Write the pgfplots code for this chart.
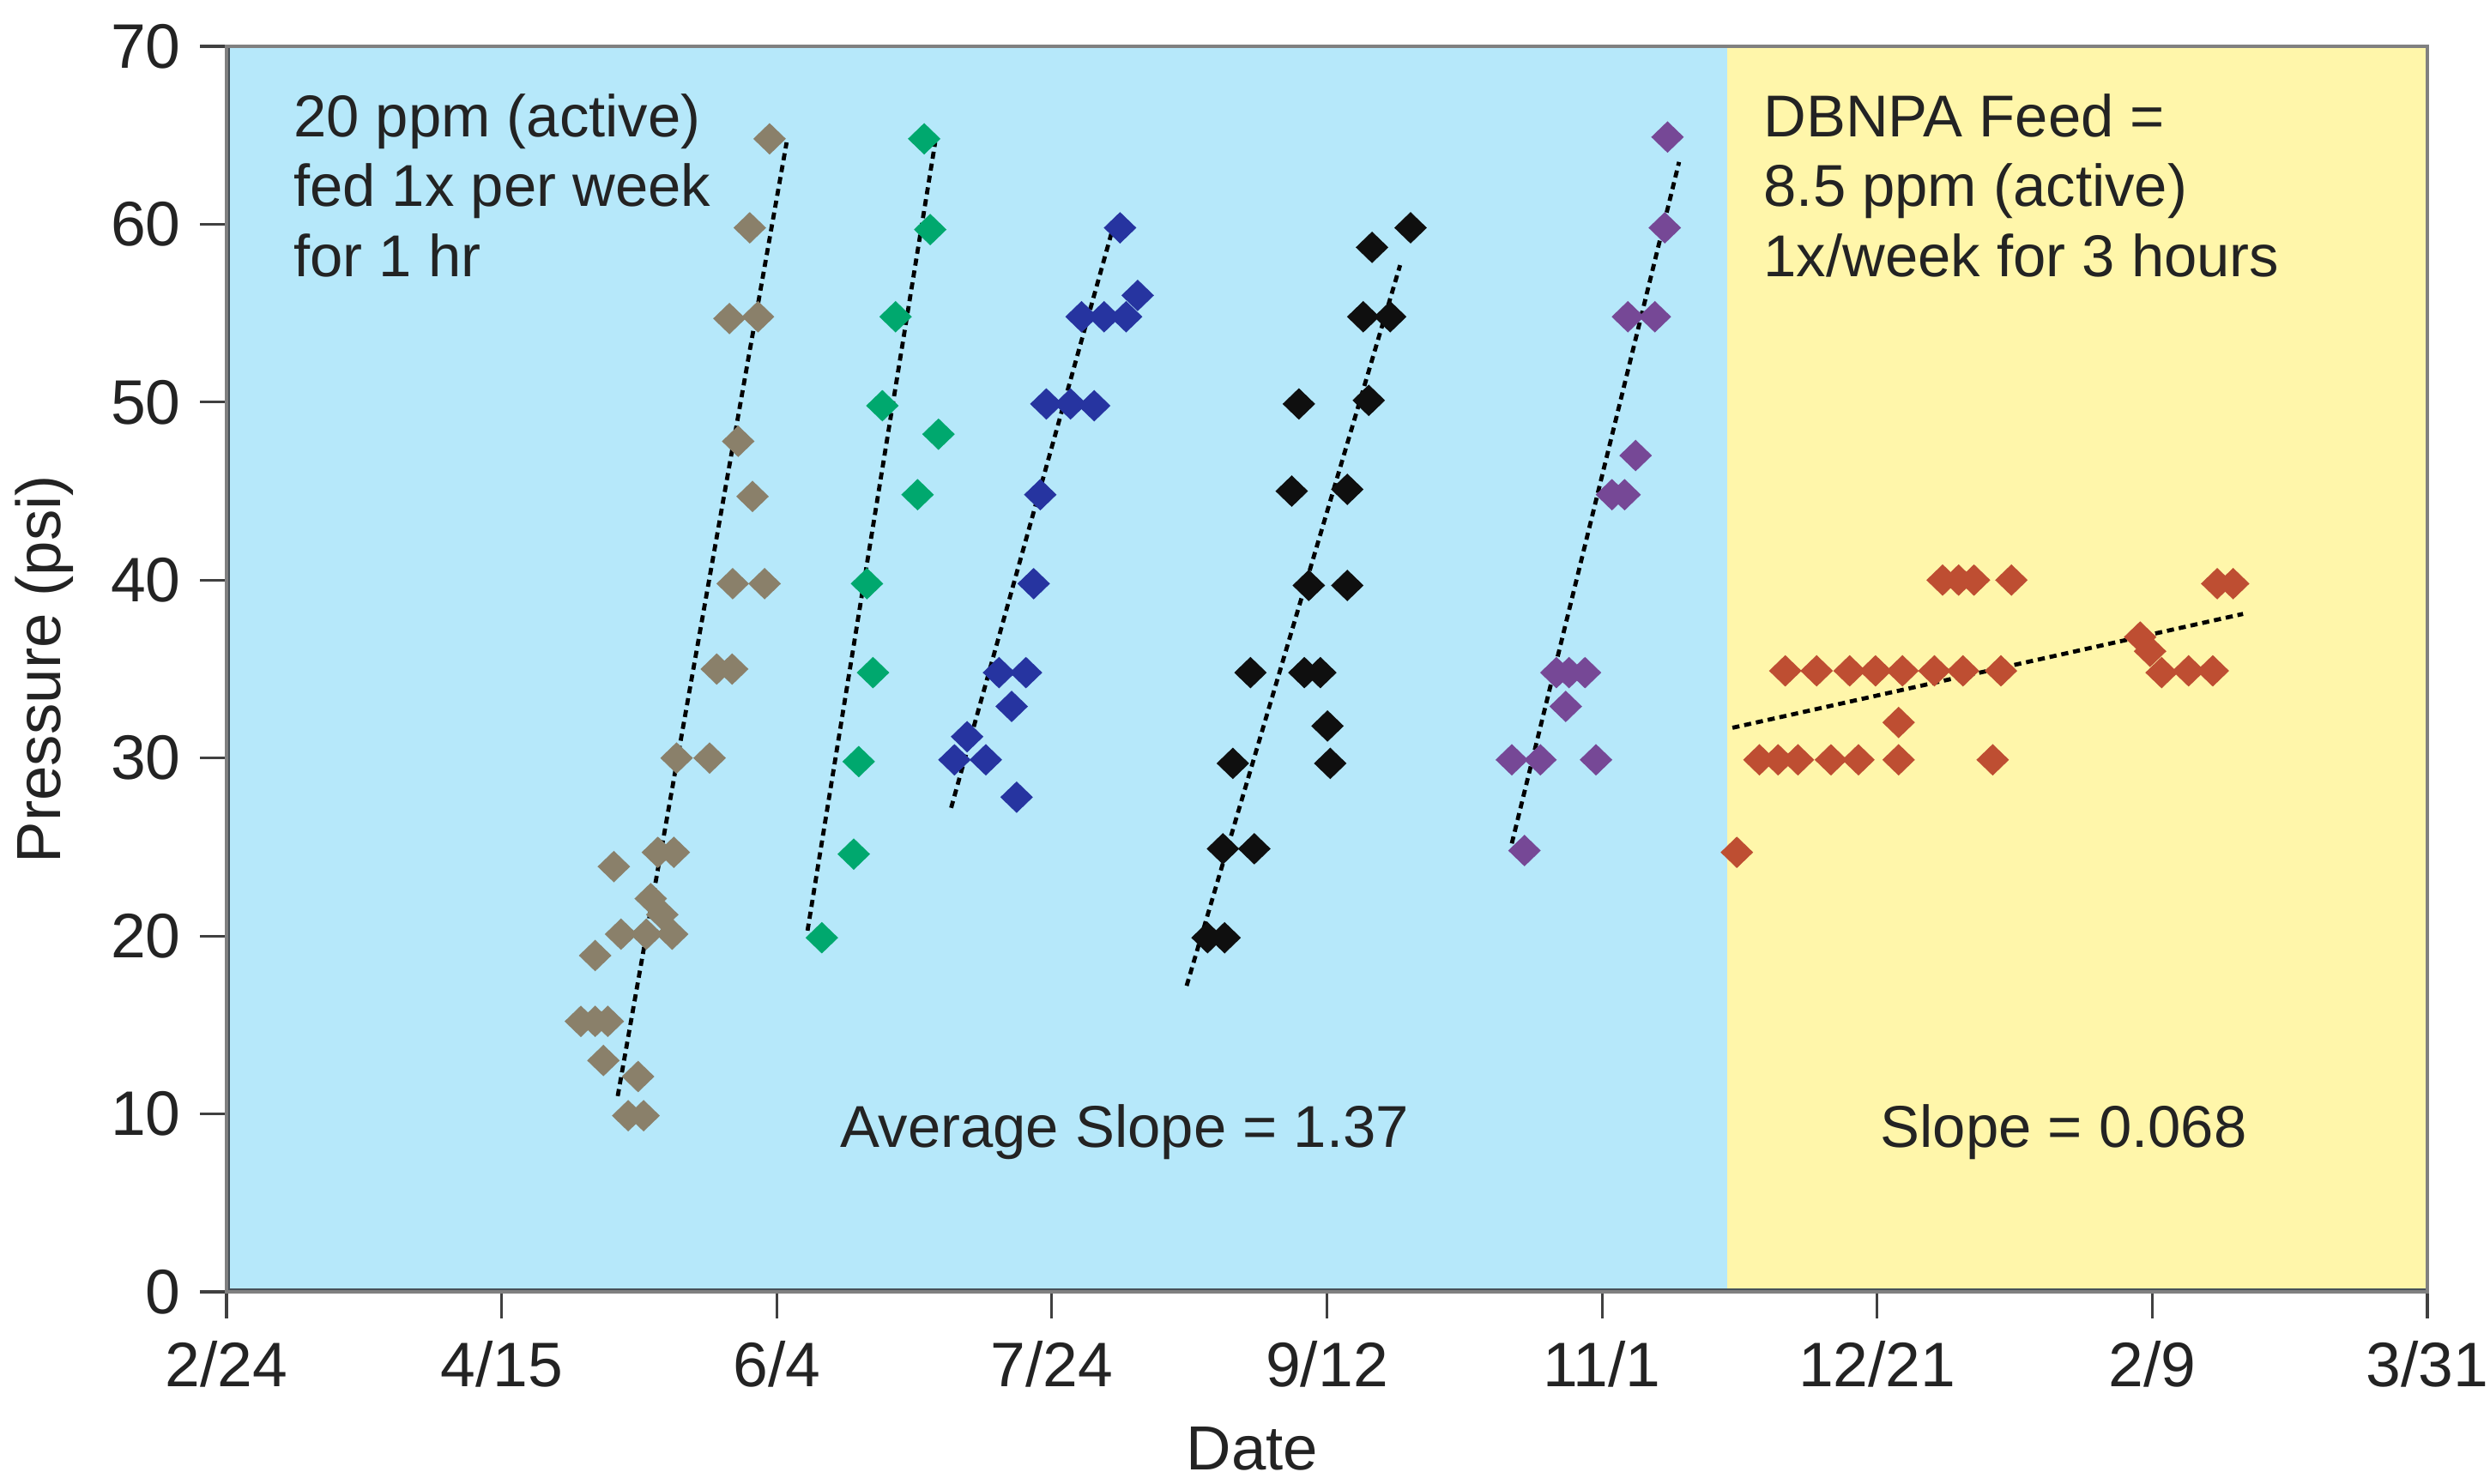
\documentclass[border=0pt]{standalone}
\usepackage{fontspec}
\setmainfont{Liberation Sans}
\usepackage{pgfplots}
\pgfplotsset{compat=1.18}
\definecolor{bgblue}{RGB}{182,232,250}
\definecolor{bgyellow}{RGB}{255,246,170}
\definecolor{cgray}{RGB}{138,128,106}
\definecolor{cgreen}{RGB}{0,168,110}
\definecolor{cblue}{RGB}{38,52,160}
\definecolor{cblack}{RGB}{15,15,15}
\definecolor{cpurple}{RGB}{118,72,150}
\definecolor{cred}{RGB}{190,78,50}
\definecolor{framec}{RGB}{70,80,88}
\definecolor{txt}{RGB}{35,35,35}
\begin{document}
\begin{tikzpicture}
\useasboundingbox (-1.4555cm,-1.235cm) rectangle (14.5445cm,8.3032cm);
\begin{axis}[
  at={(0,0)}, anchor=south west,
  scale only axis, width=14.142cm, height=8.0055cm,
  xmin=0, xmax=400, ymin=0, ymax=70,
  xtick={0,50,...,400},
  xticklabels={2/24,4/15,6/4,7/24,9/12,11/1,12/21,2/9,3/31},
  ytick={0,10,...,70},
  xtick pos=bottom, ytick pos=left,
  tick align=outside, major tick length=0.17cm,
  tick style={color=black!75, line width=0.5pt},
  ticklabel style={font=\fontsize{11.5}{13}\selectfont, text=txt},
  x tick label style={yshift=-0.02cm},
  /pgf/number format/assume math mode=true,
  axis on top,
  axis line style={draw=black!50, line width=0.5pt},
  xlabel={Date}, ylabel={Pressure (psi)},
  label style={font=\fontsize{11.4}{13}\selectfont, text=txt},
  xlabel style={at={(axis description cs:0.466,-0.1262)}, anchor=center},
  ylabel style={at={(axis description cs:-0.0827,0.5)}, anchor=center},
  mark size=2.6pt,
]
% background regions
\addplot[draw=none, fill=bgblue] coordinates {(0,0) (0,70) (272.7,70) (272.7,0)} -- cycle;
\addplot[draw=none, fill=bgyellow] coordinates {(272.7,0) (272.7,70) (400,70) (400,0)} -- cycle;

\pgfplotsset{dia/.style={only marks, color=#1, mark=diamond*, mark options={xscale=1.38, line width=0.4pt}}}
% gray series
\addplot[dia=cgray] coordinates {
(64.4,15.2) (67,15.2) (69.3,15.2) (67,18.9) (68.5,13.0) (70.4,23.9) (71.7,20.1)
(73,9.9) (75.8,9.9) (74.8,12.1) (76.3,20.1) (77.1,22.1) (79.2,21.2) (81,20.1)
(78.4,24.7) (81.3,24.7) (81.8,30) (87.8,30) (89.1,35) (91.9,35) (92,39.8) (97.8,39.8)
(95.6,44.7) (93,47.8) (91.4,54.7) (96.6,54.8) (95.1,59.8) (98.7,64.8)};
% green series
\addplot[dia=cgreen] coordinates {
(108.2,19.9) (114,24.6) (114.9,29.8) (116.4,39.8) (117.5,34.8) (119.2,49.8)
(121.6,54.8) (125.6,44.8) (126.8,64.8) (127.9,59.7) (129.4,48.2)};
% blue series
\addplot[dia=cblue] coordinates {
(132.3,29.9) (134.6,31.2) (138,29.9) (140.4,34.8) (142.7,32.9) (143.6,27.8)
(145.3,34.8) (146.7,39.8) (147.9,44.8) (149,49.9) (153.4,49.9) (157.7,49.8)
(155.4,54.8) (159.5,54.8) (162.4,59.8) (163.5,54.8) (165.6,56)};
% black series
\addplot[dia=cblack] coordinates {
(178.3,19.9) (181.4,19.9) (181.1,24.9) (182.9,29.7) (186.1,34.8) (186.8,24.9)
(193.6,45.0) (194.9,49.9) (195.9,34.8) (196.7,39.7) (198.8,34.8) (200.1,31.8)
(200.6,29.7) (203.7,39.7) (203.7,45.1) (206.6,54.8) (207.6,50.1) (208.2,58.7)
(211.5,54.8) (215.2,59.8)};
% purple series
\addplot[dia=cpurple] coordinates {
(233.6,29.9) (235.9,24.8) (238.8,29.9) (241.7,34.8) (243.4,32.9) (244,34.8)
(246.9,34.8) (248.9,29.9) (251.8,44.8) (254.1,44.8) (254.7,54.8) (256.1,47)
(259.6,54.8) (261.4,59.8) (261.9,64.9)};
% red series
\addplot[dia=cred] coordinates {
(274.5,24.7)
(278.6,29.9) (282,29.9) (285.6,29.9) (291.6,29.9) (296.6,29.9) (303.9,29.9) (321,29.9)
(283.3,34.9) (289,34.9) (295,34.9) (299.7,34.9) (304.6,34.9) (310.4,34.9) (315.6,34.9) (322.5,34.9)
(303.9,32.0)
(311.9,40) (314.8,40) (317.6,40) (324.4,40)
(347.8,36.8) (349.6,36.0) (351.7,34.8) (356.6,34.9) (361,34.9)
(361.8,39.8) (364.7,39.8)};

% trend lines
\pgfplotsset{trend/.style={black, line width=0.75pt, dash pattern=on 1.3pt off 0.9pt}}
\addplot[trend] coordinates {(71.1,11.0) (101.8,64.6)};
\addplot[trend] coordinates {(105.6,20.3) (128.8,64.6)};
\addplot[trend] coordinates {(131.7,27.2) (161.2,59.9)};
\addplot[trend] coordinates {(174.5,17.2) (213.3,57.7)};
\addplot[trend] coordinates {(233.6,25.2) (264,63.5)};
\addplot[trend] coordinates {(273.7,31.7) (366.5,38.1)};

% annotations
\node[anchor=north west, align=left, inner sep=0pt, text=txt,
  font=\fontsize{10.8}{12.8}\selectfont] at (axis cs:12.0,67.4)
  {20 ppm (active)\\fed 1x per week\\for 1 hr};
\node[anchor=north west, align=left, inner sep=0pt, text=txt,
  font=\fontsize{10.8}{12.8}\selectfont] at (axis cs:279.2,67.4)
  {DBNPA Feed =\\8.5 ppm (active)\\1x/week for 3 hours};
\node[anchor=center, inner sep=0pt, text=txt, font=\fontsize{10.8}{13}\selectfont]
  at (axis cs:163.2,9.0) {Average Slope = 1.37};
\node[anchor=center, inner sep=0pt, text=txt, font=\fontsize{10.8}{13}\selectfont]
  at (axis cs:333.9,9.0) {Slope = 0.068};

% heavier left and bottom axis lines
\draw[framec, line width=1.3pt] (rel axis cs:0,1) -- (rel axis cs:0,0) -- (rel axis cs:1,0);
\end{axis}
\end{tikzpicture}
\end{document}
